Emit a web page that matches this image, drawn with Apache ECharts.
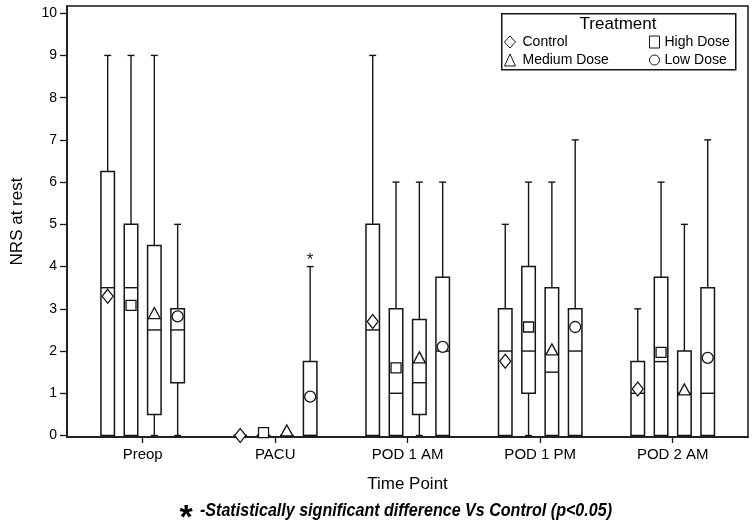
<!DOCTYPE html>
<html>
<head>
<meta charset="utf-8">
<script src="https://cdn.jsdelivr.net/npm/echarts@6/dist/echarts.min.js"></script>
<style>html,body{margin:0;padding:0;background:#fff}#c{width:753px;height:528px}</style>
</head>
<body>
<div id="c"></div>
<script>
// ---------- data ----------
const categories = ['Preop', 'PACU', 'POD 1 AM', 'POD 1 PM', 'POD 2 AM'];
const treatments = ['Control', 'High Dose', 'Medium Dose', 'Low Dose'];
const yTicks = [0, 1, 2, 3, 4, 5, 6, 7, 8, 9, 10];

// [min, q1, median, q3, max] per time point
const controlBox = [[0, 0, 3.5, 6.25, 9], [0, 0, 0, 0, 0], [0, 0, 2.5, 5, 9], [0, 0, 2, 3, 5], [0, 0, 1, 1.75, 3]];
const highBox    = [[0, 0, 3.5, 5, 9], [0, 0, 0, 0, 0], [0, 0, 1, 3, 6], [0, 1, 2, 4, 6], [0, 0, 1.75, 3.75, 6]];
const mediumBox  = [[0, 0.5, 2.5, 4.5, 9], [0, 0, 0, 0, 0], [0, 0.5, 1.25, 2.75, 6], [0, 0, 1.5, 3.5, 6], [0, 0, 1, 2, 5]];
const lowBox     = [[0, 1.25, 2.5, 3, 5], [0, 0, 0, 1.75, 4], [0, 0, 2, 3.75, 6], [0, 0, 2, 3, 7], [0, 0, 1, 3.5, 7]];

// means
const controlMean = [3.3, 0, 2.7, 1.76, 1.1];
const highMean    = [3.08, 0.07, 1.6, 2.57, 1.97];
const mediumMean  = [2.9, 0.12, 1.85, 2.04, 1.09];
const lowMean     = [2.82, 0.92, 2.1, 2.57, 1.84];

// significance vs control (p<0.05)
const controlSig = [false, false, false, false, false];
const highSig    = [false, false, false, false, false];
const mediumSig  = [false, false, false, false, false];
const lowSig     = [false, true, false, false, false];

const noteText = '-Statistically significant difference Vs Control (p<0.05)';

// ---------- build ----------
const boxes = [controlBox, highBox, mediumBox, lowBox];
const means = [controlMean, highMean, mediumMean, lowMean];
const sigs = [controlSig, highSig, mediumSig, lowSig];
const symbols = ['diamond', 'rect', 'triangle', 'circle'];
const symbolSizes = [[11, 14], [10, 10], [12, 11], [11, 11]];
const GROUP_STEP = 0.176;   // spacing between boxes within a group (x units)
const BOX_W = 13.5;          // px
const CAP_W = 7;             // px
const INK = '#151515';
const FONT = '"Liberation Sans", Arial, sans-serif';
const NOTE_FONT = 'italic bold 18px "Liberation Sans", Arial, sans-serif';

// condense the note to the reference width
const mctx = document.createElement('canvas').getContext('2d');
mctx.font = NOTE_FONT;
const noteScale = 412 / mctx.measureText(noteText).width;

function offsetOf(ti) { return (ti - (treatments.length - 1) / 2) * GROUP_STEP; }

const series = [];
treatments.forEach((name, ti) => {
  series.push({
    name: name,
    type: 'scatter',
    symbol: symbols[ti],
    symbolSize: symbolSizes[ti],
    itemStyle: { color: '#fff', borderColor: INK, borderWidth: 1.3, opacity: 1 },
    emphasis: { disabled: true },
    silent: true,
    z: 5,
    data: means[ti].map((m, ci) => [ci + offsetOf(ti), m])
  });
});
treatments.forEach((name, ti) => {
  series.push({
    name: name,
    type: 'custom',
    z: 3,
    silent: true,
    clip: false,
    data: boxes[ti].map((b, ci) => [ci, b[0], b[1], b[2], b[3], b[4], sigs[ti][ci] ? 1 : 0]),
    encode: { x: 0, y: [1, 2, 3, 4, 5] },
    renderItem: function (params, api) {
      const cx = api.value(0) + offsetOf(ti);
      const pMin = api.coord([cx, api.value(1)]);
      const pQ1 = api.coord([cx, api.value(2)]);
      const pMed = api.coord([cx, api.value(3)]);
      const pQ3 = api.coord([cx, api.value(4)]);
      const pMax = api.coord([cx, api.value(5)]);
      const x = pQ1[0];
      const ls = { stroke: INK, lineWidth: 1.4, fill: null };
      const ch = [];
      if (api.value(5) > api.value(4)) {
        ch.push({ type: 'line', shape: { x1: x, y1: pQ3[1], x2: x, y2: pMax[1] }, style: ls });
        ch.push({ type: 'line', shape: { x1: x - CAP_W / 2, y1: pMax[1], x2: x + CAP_W / 2, y2: pMax[1] }, style: ls });
      }
      if (api.value(2) > api.value(1)) {
        ch.push({ type: 'line', shape: { x1: x, y1: pQ1[1], x2: x, y2: pMin[1] }, style: ls });
        ch.push({ type: 'line', shape: { x1: x - CAP_W / 2, y1: pMin[1], x2: x + CAP_W / 2, y2: pMin[1] }, style: ls });
      }
      ch.push({ type: 'rect', shape: { x: x - BOX_W / 2, y: pQ3[1], width: BOX_W, height: pQ1[1] - pQ3[1] },
        style: { stroke: INK, lineWidth: 1.5, fill: '#fff' } });
      ch.push({ type: 'line', shape: { x1: x - BOX_W / 2, y1: pMed[1], x2: x + BOX_W / 2, y2: pMed[1] }, style: ls });
      if (api.value(6)) {
        ch.push({ type: 'text', x: x, y: pMax[1] - 6,
          style: { text: '*', fill: INK, font: '17px ' + FONT, align: 'center', verticalAlign: 'middle' } });
      }
      return { type: 'group', children: ch };
    }
  });
});

const chart = echarts.init(document.getElementById('c'), null, { renderer: 'canvas' });
chart.setOption({
  animation: false,
  backgroundColor: '#fff',
  grid: { left: 67, right: 5, top: 6, bottom: 91, show: true, borderColor: INK, borderWidth: 1.5, backgroundColor: 'transparent' },
  xAxis: {
    type: 'value',
    min: -0.571, max: 4.568,
    name: 'Time Point', nameLocation: 'middle', nameGap: 39,
    nameTextStyle: { fontSize: 17, color: '#000', fontFamily: FONT },
    axisLine: { show: true, onZero: false, lineStyle: { color: INK, width: 1.5 } },
    axisTick: { show: true, length: 6, lineStyle: { color: INK, width: 1.3 }, customValues: categories.map((c, i) => i) },
    axisLabel: { fontSize: 15, color: '#000', fontFamily: FONT, margin: 10,
      customValues: categories.map((c, i) => i), formatter: v => categories[Math.round(v)] },
    splitLine: { show: false }
  },
  yAxis: {
    type: 'value',
    min: -0.035, max: 10.17,
    name: 'NRS at rest', nameLocation: 'middle', nameGap: 41,
    nameTextStyle: { fontSize: 17, color: '#000', fontFamily: FONT },
    axisLine: { show: true, onZero: false, lineStyle: { color: INK, width: 1.5 } },
    axisTick: { show: true, length: 7, lineStyle: { color: INK, width: 1.3 }, customValues: yTicks },
    axisLabel: { fontSize: 14, color: '#000', fontFamily: FONT, margin: 10, customValues: yTicks },
    splitLine: { show: false }
  },
  legend: [
    { data: [treatments[0], treatments[2]], orient: 'vertical', left: 504, top: 35, padding: 0,
      itemWidth: 11, itemHeight: 12, itemGap: 4, selectedMode: false,
      itemStyle: { borderWidth: 1 },
      textStyle: { fontSize: 14, color: '#000', fontFamily: FONT, padding: [0, 0, 0, 2] } },
    { data: [treatments[1], treatments[3]], orient: 'vertical', left: 649, top: 35, padding: 0,
      itemWidth: 10, itemHeight: 12, itemGap: 4, selectedMode: false,
      itemStyle: { borderWidth: 1 },
      textStyle: { fontSize: 14, color: '#000', fontFamily: FONT } }
  ],
  graphic: [
    { type: 'rect', left: 501, top: 13, z: -1, shape: { width: 234, height: 56 },
      style: { fill: '#fff', stroke: INK, lineWidth: 1.5 } },
    { type: 'text', x: 618, y: 24, z: 10,
      style: { text: 'Treatment', fill: '#000', font: '17px ' + FONT, align: 'center', verticalAlign: 'middle' } },
    { type: 'text', x: 186, y: 519, z: 10,
      style: { text: '*', fill: '#000', font: 'bold 34px ' + FONT, align: 'center', verticalAlign: 'middle' } },
    { type: 'text', x: 200, y: 511, z: 10, scaleX: noteScale,
      style: { text: noteText, fill: '#000', font: NOTE_FONT, align: 'left', verticalAlign: 'middle' } }
  ],
  series: series
});
</script>
</body>
</html>
